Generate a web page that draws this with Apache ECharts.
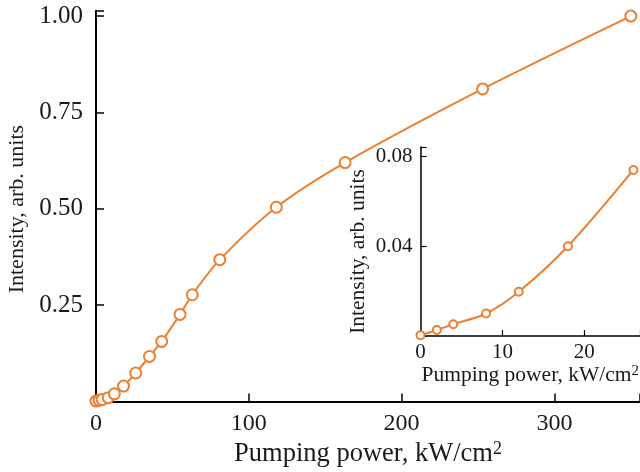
<!DOCTYPE html>
<html>
<head>
<meta charset="utf-8">
<script src="https://cdn.jsdelivr.net/npm/echarts@6/dist/echarts.min.js"></script>
<style>html,body{margin:0;padding:0;background:#fff}#c{width:640px;height:472px}</style>
</head>
<body>
<div id="c"></div>
<script>
// Main chart data
var mainPower = [0, 2, 4, 8, 12, 18, 26, 35, 43, 55, 63, 81, 118, 163, 253, 350];
var mainIntensity = [0.001, 0.003, 0.005, 0.010, 0.020, 0.040, 0.074, 0.117, 0.156, 0.226, 0.277, 0.368, 0.504, 0.620, 0.811, 1.000];
// Inset data
var insetPower = [0, 2, 4, 8, 12, 18, 26];
var insetIntensity = [0.0003, 0.0027, 0.0052, 0.0100, 0.0197, 0.0399, 0.0738];
// Tick labels
var mainXTicks = ['0', '100', '200', '300'];
var mainYTicks = ['0.25', '0.50', '0.75', '1.00'];
var insetXTicks = ['0', '10', '20'];
var insetYTicks = ['0.04', '0.08'];

var ORANGE = '#EE7F30';
var TXT = '#1a1a1a';
var FONT = '"Liberation Serif", "DejaVu Serif", serif';

function pairs(xs, ys) { return xs.map(function (x, i) { return [x, ys[i]]; }); }
function fmtFrom(list) {
  return function (v) {
    for (var i = 0; i < list.length; i++) { if (Math.abs(parseFloat(list[i]) - v) < 1e-9) return list[i]; }
    return '';
  };
}

var chart = echarts.init(document.getElementById('c'));
chart.setOption({
  backgroundColor: '#fff',
  animation: false,
  grid: [
    { left: 96, right: 0, top: 10.7, bottom: 70.5, containLabel: false, outerBoundsMode: 'none' },
    { left: 420.5, right: 0, top: 147, bottom: 136, containLabel: false, outerBoundsMode: 'none' }
  ],
  xAxis: [
    {
      gridIndex: 0, type: 'value', min: 0, max: 356, interval: 100,
      name: 'Pumping power, kW/cm{sup|2}', nameLocation: 'middle', nameGap: 38,
      nameTextStyle: { fontFamily: FONT, fontSize: 26.5, color: TXT,
        rich: { sup: { fontFamily: FONT, fontSize: 18, color: TXT, verticalAlign: 'top', padding: [0, 0, 10, 0] } } },
      axisLine: { show: true, onZero: false, lineStyle: { color: '#000', width: 2 } },
      axisTick: { show: true, inside: true, length: 8, lineStyle: { color: '#000', width: 1.5 } },
      axisLabel: { margin: 10, fontFamily: FONT, fontSize: 24, color: TXT, formatter: fmtFrom(mainXTicks) },
      splitLine: { show: false }
    },
    {
      gridIndex: 1, type: 'value', min: 0, max: 26.8, interval: 10,
      name: 'Pumping power, kW/cm{sup|2}', nameLocation: 'middle', nameGap: 27,
      nameTextStyle: { fontFamily: FONT, fontSize: 21.5, color: TXT,
        rich: { sup: { fontFamily: FONT, fontSize: 15, color: TXT, verticalAlign: 'top', padding: [0, 0, 8, 0] } } },
      axisLine: { show: true, onZero: false, lineStyle: { color: '#000', width: 1.5 } },
      axisTick: { show: true, inside: true, length: 6, lineStyle: { color: '#000', width: 1.2 } },
      axisLabel: { margin: 6, fontFamily: FONT, fontSize: 21, color: TXT, formatter: fmtFrom(insetXTicks) },
      splitLine: { show: false }
    }
  ],
  yAxis: [
    {
      gridIndex: 0, type: 'value', min: 0, max: 1.014, interval: 0.25,
      name: 'Intensity, arb. units', nameLocation: 'middle', nameGap: 67,
      nameTextStyle: { fontFamily: FONT, fontSize: 22, color: TXT, padding: [0, 6, 0, 0] },
      axisLine: { show: true, onZero: false, lineStyle: { color: '#000', width: 2 } },
      axisTick: { show: true, inside: true, length: 8, lineStyle: { color: '#000', width: 1.5 } },
      axisLabel: { margin: 13, fontFamily: FONT, fontSize: 25, color: TXT, formatter: fmtFrom(mainYTicks) },
      splitLine: { show: false }
    },
    {
      gridIndex: 1, type: 'value', min: 0, max: 0.084, interval: 0.04,
      name: 'Intensity, arb. units', nameLocation: 'middle', nameGap: 51,
      nameTextStyle: { fontFamily: FONT, fontSize: 21.5, color: TXT, padding: [0, 20, 0, 0] },
      axisLine: { show: true, onZero: false, lineStyle: { color: '#000', width: 1.5 } },
      axisTick: { show: true, inside: true, length: 6, lineStyle: { color: '#000', width: 1.2 } },
      axisLabel: { margin: 8, fontFamily: FONT, fontSize: 21, color: TXT, formatter: fmtFrom(insetYTicks) },
      splitLine: { show: false }
    }
  ],
  series: [
    {
      type: 'line', xAxisIndex: 0, yAxisIndex: 0, data: pairs(mainPower, mainIntensity),
      smooth: 0.3, symbol: 'emptyCircle', symbolSize: 11, clip: false,
      lineStyle: { color: ORANGE, width: 2 },
      itemStyle: { color: ORANGE, borderColor: ORANGE, borderWidth: 1.3 }
    },
    {
      type: 'line', xAxisIndex: 1, yAxisIndex: 1, data: pairs(insetPower, insetIntensity),
      smooth: 0.3, symbol: 'emptyCircle', symbolSize: 8, clip: false,
      lineStyle: { color: ORANGE, width: 2 },
      itemStyle: { color: ORANGE, borderColor: ORANGE, borderWidth: 1.2 }
    }
  ]
});
</script>
</body>
</html>
